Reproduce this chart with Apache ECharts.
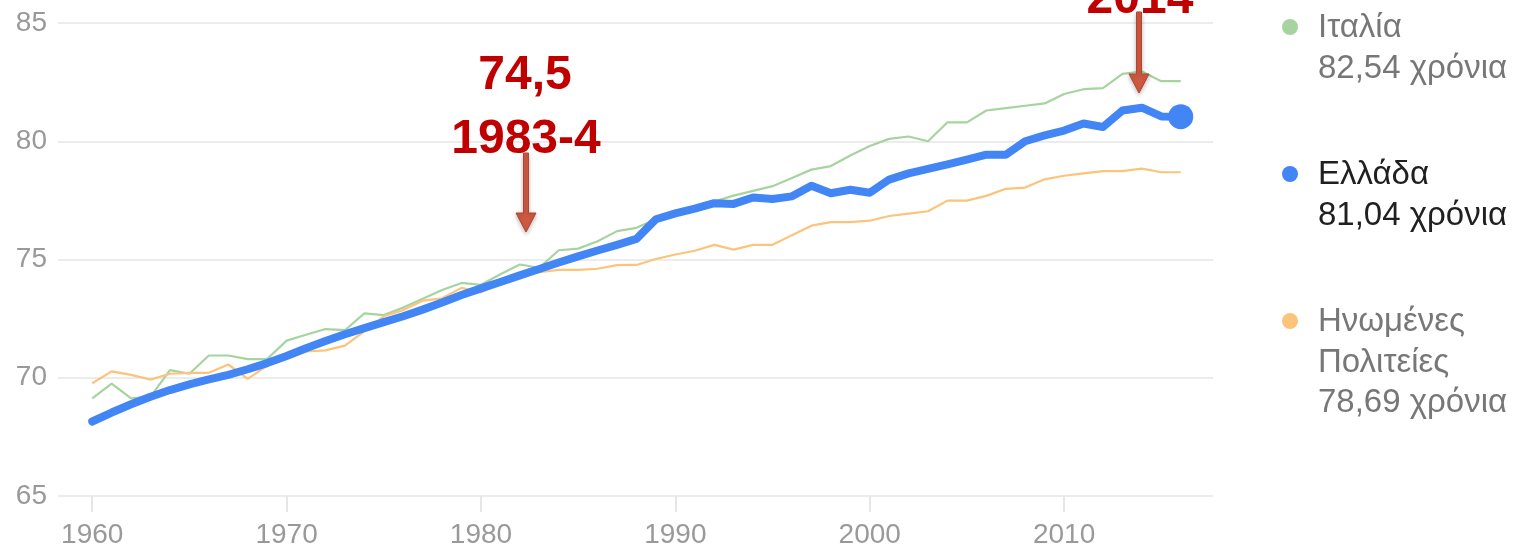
<!DOCTYPE html>
<html>
<head>
<meta charset="utf-8">
<script src="https://cdn.jsdelivr.net/npm/echarts@6/dist/echarts.min.js"></script>
<style>
html, body { margin: 0; padding: 0; background: #fff; }
#chart { width: 1522px; height: 549px; }
</style>
</head>
<body>
<div id="chart"></div>
<script>
// life expectancy at birth, 1960-2016
var years = [];
for (var y = 1960; y <= 2016; y++) years.push(y);

var xTicks = [1960, 1970, 1980, 1990, 2000, 2010];

var greece = [
    68.15, 68.53, 68.88, 69.2, 69.48, 69.72, 69.93, 70.12, 70.36, 70.62,
    70.92, 71.25, 71.55, 71.84, 72.1, 72.35, 72.6, 72.88, 73.18, 73.5,
    73.78, 74.05, 74.33, 74.6, 74.87, 75.13, 75.38, 75.62, 75.87, 76.7,
    76.95, 77.15, 77.38, 77.35, 77.62, 77.56, 77.67, 78.12, 77.8, 77.95,
    77.82, 78.38, 78.64, 78.83, 79.02, 79.22, 79.43, 79.43, 80.0, 80.25,
    80.45, 80.75, 80.6, 81.3, 81.42, 81.05, 81.04
];
var italy = [
    69.13, 69.75, 69.13, 69.2, 70.32, 70.17, 70.94, 70.94, 70.79, 70.79,
    71.57, 71.82, 72.06, 72.01, 72.72, 72.65, 72.97, 73.34, 73.71, 74.01,
    73.93, 74.38, 74.79, 74.65, 75.39, 75.46, 75.77, 76.2, 76.34, 76.7,
    76.95, 77.15, 77.45, 77.7, 77.9, 78.1, 78.45, 78.8, 78.95, 79.4,
    79.8, 80.1, 80.2, 80.0, 80.8, 80.8, 81.3, 81.4, 81.5, 81.6,
    82.0, 82.2, 82.25, 82.85, 82.95, 82.54, 82.54
];
var usa = [
    69.77, 70.27, 70.12, 69.92, 70.17, 70.21, 70.21, 70.56, 69.95, 70.51,
    70.81, 71.11, 71.16, 71.36, 71.96, 72.6, 72.86, 73.26, 73.36, 73.8,
    73.61, 74.01, 74.36, 74.46, 74.56, 74.56, 74.61, 74.76, 74.77, 75.02,
    75.21, 75.37, 75.62, 75.42, 75.62, 75.62, 76.03, 76.43, 76.58, 76.58,
    76.64, 76.84, 76.94, 77.04, 77.49, 77.49, 77.69, 77.99, 78.04, 78.39,
    78.54, 78.64, 78.74, 78.74, 78.84, 78.69, 78.69
];

var names = ['Ιταλία', 'Ελλάδα', 'Ηνωμένες\nΠολιτείες'];
var unit = 'χρόνια';

var colors = { italy: '#a6d49f', greece: '#4285f4', usa: '#fbc47a' };
var font = '"Liberation Sans", Arial, sans-serif';

function pairs(vals) {
    return years.map(function (yr, i) { return [yr, vals[i]]; });
}

function fmt(v) {
    return v.toFixed(2).replace('.', ',') + ' ' + unit;
}

var chart = echarts.init(document.getElementById('chart'));

// legend on the right, drawn by hand
var legend = [
    { name: names[0], value: italy[italy.length - 1], color: colors.italy, text: '#777777', y: 27 },
    { name: names[1], value: greece[greece.length - 1], color: colors.greece, text: '#202020', y: 174 },
    { name: names[2], value: usa[usa.length - 1], color: colors.usa, text: '#777777', y: 321 }
];
var graphics = [];
legend.forEach(function (it) {
    graphics.push({
        type: 'circle', shape: { cx: 1290, cy: it.y, r: 8 }, z: 100,
        style: { fill: it.color }, silent: true
    });
    var lines = it.name.split('\n').concat([fmt(it.value)]);
    lines.forEach(function (ln, k) {
        graphics.push({
            type: 'text', x: 1318, y: it.y + 1 + k * 40.5, z: 100,
            style: {
                text: ln, fill: it.text, font: '33px ' + font,
                textAlign: 'left', textVerticalAlign: 'middle'
            }, silent: true
        });
    });
});

// red annotations
var annoFont = 'bold 48px ' + font;
[['74,5', 525, 76], ['1983-4', 526, 140], ['2014', 1140, 0]].forEach(function (a) {
    graphics.push({
        type: 'text', x: a[1], y: a[2], z: 100,
        style: { text: a[0], fill: '#c00000', font: annoFont, textAlign: 'center', textVerticalAlign: 'middle' },
        silent: true
    });
});

function arrow(x, y1, y2) {
    return {
        type: 'polygon', silent: true, z: 101,
        shape: {
            points: [
                [x - 2.5, y1], [x + 2.5, y1], [x + 2.5, y2 - 19], [x + 10, y2 - 19],
                [x, y2], [x - 10, y2 - 19], [x - 2.5, y2 - 19]
            ]
        },
        style: {
            fill: '#cf5a42', stroke: '#b4432f', lineWidth: 1,
            shadowBlur: 4, shadowColor: 'rgba(0,0,0,0.25)', shadowOffsetY: 2
        }
    };
}
graphics.push(arrow(526, 153, 232));
graphics.push(arrow(1139, 12, 93));

var option = {
    animation: false,
    backgroundColor: '#ffffff',
    grid: { left: 58, right: 309, top: 23, bottom: 53 },
    xAxis: {
        type: 'value',
        min: 1958.24,
        max: 2017.66,
        axisLine: { show: false },
        splitLine: { show: false },
        axisTick: {
            show: true, length: 16, customValues: xTicks,
            lineStyle: { color: '#e6e6e6', width: 2 }
        },
        axisLabel: {
            customValues: xTicks, margin: 25,
            color: '#999999', fontSize: 28, fontFamily: font,
            formatter: function (v) { return String(v); }
        }
    },
    yAxis: {
        type: 'value',
        min: 65,
        max: 85,
        interval: 5,
        axisLine: { show: false },
        axisTick: { show: false },
        splitLine: { lineStyle: { color: '#ececec', width: 2 } },
        axisLabel: { margin: 11, color: '#999999', fontSize: 28, fontFamily: font }
    },
    series: [
        {
            name: 'Ιταλία', type: 'line', data: pairs(italy), showSymbol: false,
            lineStyle: { color: colors.italy, width: 2.2 }, z: 2
        },
        {
            name: 'Ηνωμένες Πολιτείες', type: 'line', data: pairs(usa), showSymbol: false,
            lineStyle: { color: colors.usa, width: 2.2 }, z: 3
        },
        {
            name: 'Ελλάδα', type: 'line', data: pairs(greece), showSymbol: false,
            lineStyle: { color: colors.greece, width: 8, cap: 'round', join: 'round' }, z: 4
        },
        {
            name: 'Ελλάδα τέλος', type: 'scatter', symbolSize: 25, z: 5,
            data: [[years[years.length - 1], greece[greece.length - 1]]],
            itemStyle: { color: colors.greece, opacity: 1 }
        }
    ],
    graphic: graphics
};

chart.setOption(option);
window.onresize = chart.resize;
</script>
</body>
</html>
